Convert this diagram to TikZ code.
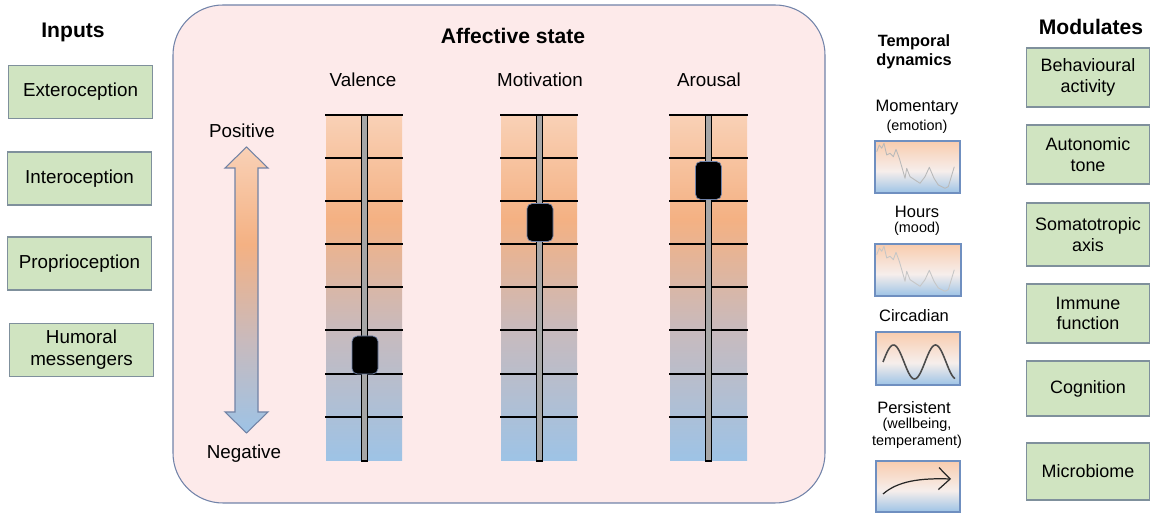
\documentclass[tikz,border=0pt]{standalone}
\usepackage{fontspec}
\setmainfont{Liberation Sans}
\usepackage{tikz}
\usetikzlibrary{calc,arrows.meta,backgrounds}
\definecolor{boxgreen}{HTML}{D0E4C1}
\definecolor{boxline}{HTML}{7F909C}
\definecolor{statefill}{HTML}{FDEAEA}
\definecolor{stateline}{HTML}{7183A9}
\definecolor{peach}{HTML}{F9D1B6}
\definecolor{orangeL}{HTML}{F4B183}
\definecolor{midgray}{HTML}{C8BABD}
\definecolor{blueL}{HTML}{9DC3E6}
\definecolor{panelline}{HTML}{6F8FC0}
\definecolor{panelwhite}{HTML}{F6EEEB}
\newcommand{\gridw}{1.1pt}
\newcommand{\linew}{0.6pt}
\newcommand{\mainsize}{\fontsize{10.7}{12.6}\selectfont}
\newcommand{\modsize}{\fontsize{10.2}{11.6}\selectfont}
\newcommand{\smallsize}{\fontsize{8.2}{9.6}\selectfont}
\newcommand{\timesize}{\fontsize{9.4}{10.2}\selectfont}
\pgfdeclareverticalshading{colgrad}{100bp}{color(0bp)=(blueL); color(25bp)=(blueL); color(44bp)=(midgray); color(60bp)=(orangeL); color(75bp)=(peach); color(100bp)=(peach)}
\pgfdeclareverticalshading{arrowgrad}{100bp}{color(0bp)=(blueL); color(25bp)=(blueL); color(41bp)=(midgray); color(58bp)=(orangeL); color(75bp)=(peach); color(100bp)=(peach)}
\pgfdeclareverticalshading{panelgrad}{100bp}{color(0bp)=(blueL); color(25bp)=(blueL); color(46bp)=(panelwhite); color(75bp)=(peach!85!orangeL); color(100bp)=(peach)}
\tikzset{
  inbox/.style={draw=boxline, fill=boxgreen, line width=\linew, align=center,
    minimum width=2.88cm, minimum height=1.06cm, inner sep=0pt, font=\mainsize},
  modbox/.style={draw=boxline, fill=boxgreen, line width=\linew, align=center,
    minimum width=2.46cm, minimum height=1.18cm, inner sep=0pt, font=\modsize},
  title/.style={font=\fontsize{12}{14}\selectfont\bfseries},
  label/.style={font=\mainsize},
  timelabel/.style={font=\timesize},
  note/.style={font=\smallsize, align=center},
  gridline/.style={black, line width=\gridw},
  bar/.style={fill=gray!70, draw=black, line width=\gridw},
  knob/.style={fill=black, draw=stateline, line width=0.4pt, rounded corners=3pt,
    minimum width=0.52cm, minimum height=0.76cm, inner sep=0pt},
  panel/.style={shading=panelgrad, draw=panelline, line width=\linew},
  trace/.style={gray!55, line width=0.5pt, line join=round}
}
\newcommand{\moodtrace}{(876.7,151.7) -- (879.3,145) -- (881.7,148.3) -- (884,143.3) -- (886.7,155) -- (890,153.3) -- (893.3,156.7) -- (896,149.3) -- (899.3,158.3) -- (902.7,170) -- (905,178.3) -- (906.7,168.3) -- (910,176.7) -- (915,180) -- (920,183.3) -- (925,176.7) -- (929.3,167.3) -- (934,178.3) -- (938.3,185) -- (945,188.3) -- (948.3,186.7) -- (954.3,166.7)}

\begin{document}
\begin{tikzpicture}[x=0.02cm, y=-0.02cm]
\useasboundingbox (0,0) rectangle (1157,519);
%inputs
\node[title] (inputs) at (73, 32) {Inputs};
\node[inbox] (1) at (80.5, 92) {Exteroception};
\node[inbox] (2) at (79.5, 178.5) {Interoception};
\node[inbox] (3) at (79.5, 263.5) {Proprioception};
\node[inbox] (4) at (81.5, 350) {Humoral\\messengers};
%affective state
\draw[fill=statefill, draw=stateline, line width=\linew, rounded corners=1cm] (173, 5) rectangle (825, 503);
\node[title] (state) at (513, 36) {Affective state};
\node[label] (val) at (363, 80) {Valence};
\node[label] (mot) at (540, 80) {Motivation};
\node[label] (aro) at (709, 80) {Arousal};
%double arrow
\node[label] (pos) at (242, 131) {Positive};
\node[label] (neg) at (244, 454) {Negative};
\shadedraw[shading=arrowgrad, draw=stateline!90!gray, line width=\linew] (246.5,147) -- (268,168) -- (258,168) -- (258,412) -- (268,412) -- (246.5,433) -- (225,412) -- (235,412) -- (235,168) -- (225,168) -- cycle;
%valence
\shade[shading=colgrad] (326,115) rectangle (402,461);
\draw[gridline] (325,115) -- (403,115);
\draw[gridline] (325,158) -- (403,158);
\draw[gridline] (325,201) -- (403,201);
\draw[gridline] (325,244) -- (403,244);
\draw[gridline] (325,287) -- (403,287);
\draw[gridline] (325,330) -- (403,330);
\draw[gridline] (325,374) -- (403,374);
\draw[gridline] (325,417) -- (403,417);
\draw[bar] (361.5,115) rectangle (367.5,461);
\node[knob] (vk) at (365, 355) {};
%motivation
\shade[shading=colgrad] (501,115) rectangle (577,461);
\draw[gridline] (500,115) -- (578,115);
\draw[gridline] (500,158) -- (578,158);
\draw[gridline] (500,201) -- (578,201);
\draw[gridline] (500,244) -- (578,244);
\draw[gridline] (500,287) -- (578,287);
\draw[gridline] (500,330) -- (578,330);
\draw[gridline] (500,374) -- (578,374);
\draw[gridline] (500,417) -- (578,417);
\draw[bar] (536.5,115) rectangle (542.5,461);
\node[knob] (mk) at (540, 222.5) {};
%arousal
\shade[shading=colgrad] (670,115) rectangle (747,461);
\draw[gridline] (669,115) -- (748,115);
\draw[gridline] (669,158) -- (748,158);
\draw[gridline] (669,201) -- (748,201);
\draw[gridline] (669,244) -- (748,244);
\draw[gridline] (669,287) -- (748,287);
\draw[gridline] (669,330) -- (748,330);
\draw[gridline] (669,374) -- (748,374);
\draw[gridline] (669,417) -- (748,417);
\draw[bar] (705.5,115) rectangle (711.5,461);
\node[knob] (ak) at (708.5, 180.5) {};
%temporal dynamics
\node[font=\fontsize{9.3}{10.6}\selectfont\bfseries, align=center] (temp) at (914, 52) {Temporal\\dynamics};
\node[timelabel] (t1) at (917, 108) {Momentary};
\node[note] (t1n) at (917, 127) {(emotion)};
\shadedraw[panel] (875,141) rectangle (960,193);
\draw[trace] \moodtrace;
\node[timelabel] (t2) at (917, 212) {Hours};
\node[note] (t2n) at (917, 229) {(mood)};
\shadedraw[panel] (875,244) rectangle (961,296);
\draw[trace, gray!45, shift={(0,103)}] \moodtrace;
\node[timelabel] (t3) at (914, 316) {Circadian};
\shadedraw[panel] (876,332) rectangle (960,385);
\draw[black!70, line width=0.9pt] plot[domain=0:72, samples=60, smooth] ({883+\x}, {362 - 17*sin(8.5714*\x)});
\node[timelabel] (t4) at (914, 408) {Persistent};
\node[note] (t4n) at (917, 433.5) {(wellbeing,\\temperament)};
\shadedraw[panel] (876,461) rectangle (960,512);
\draw[black!85, line width=0.7pt, -{Straight Barb[length=6.5pt, width=12.5pt]}] (883,494) .. controls (898,481) and (920,478) .. (951,479);
%modulates
\node[title] (mods) at (1091, 27) {Modulates};
\node[modbox] (5) at (1088, 77.5) {Behavioural\\activity};
\node[modbox] (6) at (1088, 154.5) {Autonomic\\tone};
\node[modbox, minimum height=1.26cm] (7) at (1088, 234.5) {Somatotropic\\axis};
\node[modbox] (8) at (1088, 313.5) {Immune\\function};
\node[modbox, minimum height=1.1cm] (9) at (1088, 388.5) {Cognition};
\node[modbox, minimum height=1.14cm] (10) at (1088, 471.5) {Microbiome};
\end{tikzpicture}
\end{document}
